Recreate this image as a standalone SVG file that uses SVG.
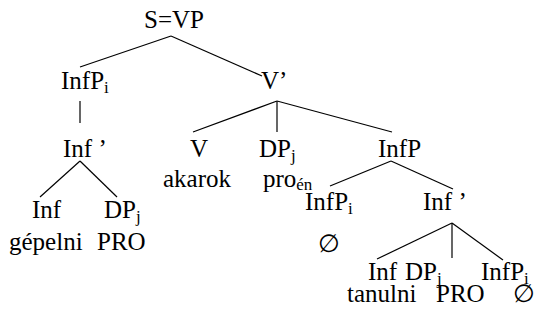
<svg xmlns="http://www.w3.org/2000/svg" width="552" height="320" viewBox="0 0 552 320">
<style>
.lbl text{font-family:'Liberation Serif','Times New Roman',Tinos,serif;font-size:25px;fill:#000}
.lbl tspan.s{font-size:17px}
#connectors line{stroke:#000;stroke-width:1.2}
</style>
<rect width="552" height="320" fill="#fff"/>
<g id="connectors">
<line x1="171" y1="36" x2="80" y2="67"/>
<line x1="171" y1="36" x2="262" y2="76"/>
<line x1="80" y1="101" x2="80" y2="123"/>
<line x1="277" y1="101" x2="193" y2="132"/>
<line x1="277" y1="101" x2="277" y2="132"/>
<line x1="277" y1="101" x2="392" y2="132"/>
<line x1="80" y1="161" x2="40" y2="197"/>
<line x1="80" y1="161" x2="117" y2="197"/>
<line x1="391" y1="161" x2="330" y2="186"/>
<line x1="391" y1="161" x2="453" y2="189"/>
<line x1="452" y1="223" x2="377" y2="259"/>
<line x1="452" y1="223" x2="452" y2="258"/>
<line x1="452" y1="223" x2="503" y2="260"/>
</g>
<g class="lbl" font-family="Liberation Serif, Times New Roman, serif" font-size="25">
<g id="n-s"><text x="144" y="28">S=VP</text></g>
<g id="n-infp1"><text x="61" y="89">InfP<tspan class="s" dy="4">i</tspan></text></g>
<g id="n-vbar"><text x="261" y="89">V’</text></g>
<g id="n-infbar1"><text x="63" y="157">Inf ’</text></g>
<g id="n-v"><text x="190" y="157">V</text><text x="163" y="187">akarok</text></g>
<g id="n-dp1"><text x="259" y="157">DP<tspan class="s" dy="4">j</tspan></text><text x="263" y="187">pro<tspan class="s" dy="3">én</tspan></text></g>
<g id="n-infp2"><text x="378" y="157">InfP</text></g>
<g id="n-inf1"><text x="32" y="218">Inf</text><text x="9" y="250">gépelni</text></g>
<g id="n-dp2"><text x="104" y="218">DP<tspan class="s" dy="4">j</tspan></text><text x="97" y="250">PRO</text></g>
<g id="n-infp3"><text x="305" y="210">InfP<tspan class="s" dy="4">i</tspan></text><text x="318" y="252">∅</text></g>
<g id="n-infbar2"><text x="423" y="210">Inf ’</text></g>
<g id="n-inf2"><text x="368" y="280">Inf</text><text x="347" y="302">tanulni</text></g>
<g id="n-dp3"><text x="405" y="280">DP<tspan class="s" dy="4">j</tspan></text><text x="436" y="302">PRO</text></g>
<g id="n-infp4"><text x="481" y="280">InfP<tspan class="s" dy="4">i</tspan></text><text x="513" y="302">∅</text></g>
</g>
</svg>
